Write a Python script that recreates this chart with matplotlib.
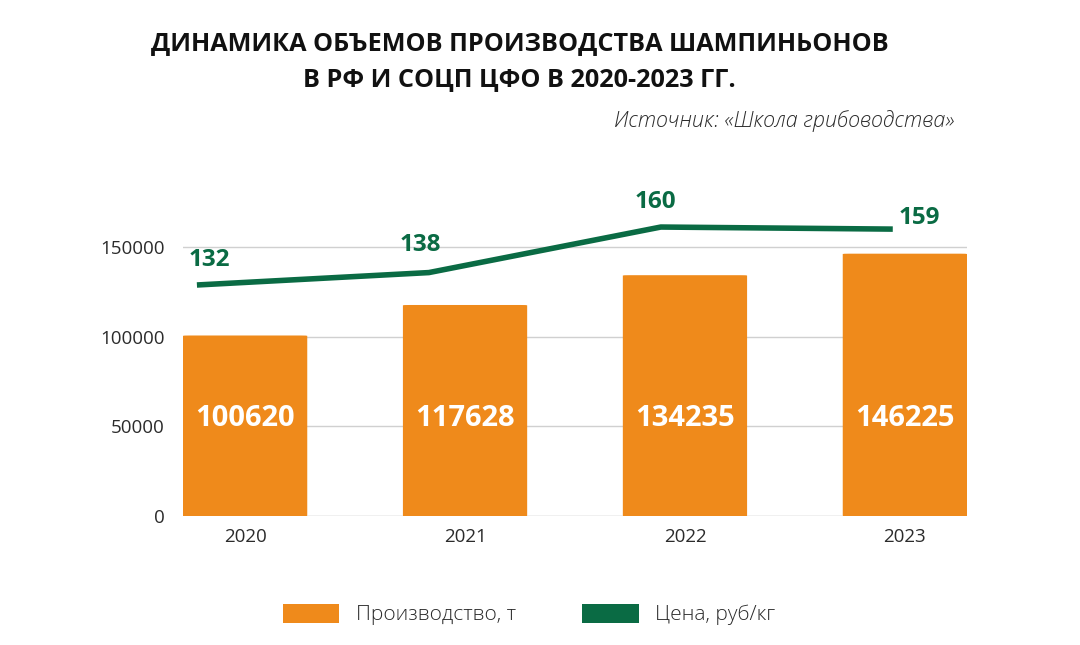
import matplotlib
matplotlib.use("Agg")
import matplotlib.pyplot as plt
from matplotlib.patches import FancyBboxPatch, Patch
import numpy as np

# data
years = ["2020", "2021", "2022", "2023"]
production = [100620, 117628, 134235, 146225]
price = [132, 138, 160, 159]
yticks = [0, 50000, 100000, 150000]

orange = "#EF8A1B"
green = "#0A6B44"
grid_c = "#D0D0D0"
txt_c = "#2b2b2b"

plt.rcParams["font.family"] = ["Open Sans", "DejaVu Sans"]

fig = plt.figure(figsize=(10.8, 6.45), dpi=100)
ax = fig.add_axes([183 / 1080, 129 / 645, 784 / 1080, 296 / 645])

x = np.arange(len(years))
w = 0.565
for xi, v in zip(x, production):
    ax.add_patch(FancyBboxPatch((xi - w / 2, 0), w, v,
                                boxstyle="round,pad=0,rounding_size=0.03",
                                mutation_aspect=6000,
                                fc=orange, ec="none", zorder=2))
    # square off the bottom corners
    ax.add_patch(plt.Rectangle((xi - w / 2, 0), w, v * 0.5, fc=orange, ec="none", zorder=2))
    ax.text(xi, 54500, f"{v}", color="white", fontsize=21, fontweight="bold",
            ha="center", va="center", zorder=3)

ax.set_xlim(-w / 2, 3 + w / 2)
ax.set_ylim(0, 165000)
ax.set_yticks(yticks)
ax.set_yticklabels([str(t) for t in yticks])
ax.set_xticks(x)
ax.set_xticklabels(years)
ax.tick_params(length=0, labelsize=13.5, colors=txt_c)
ax.tick_params(axis="y", pad=13)
ax.tick_params(axis="x", pad=9)
for t in yticks:
    ax.axhline(t, color=grid_c if t else "#b5b5b5", lw=1, zorder=1)
for s in ax.spines.values():
    s.set_visible(False)

# price line on its own axes
ax2 = fig.add_axes(ax.get_position(), frameon=False)
ax2.plot(x, price, color=green, lw=4, solid_capstyle="butt", zorder=4)
ax2.set_xlim(-0.06, 3.32)
ax2.set_ylim(20.4, 163.4)
ax2.set_xticks([])
ax2.set_yticks([])
offs = [(9, 18), (-6, 20), (-4, 18), (19, 8)]
for xi, p, o in zip(x, price, offs):
    ax2.annotate(str(p), (xi, p), xytext=o, textcoords="offset points",
                 ha="center", va="center", color=green, fontsize=17.5,
                 fontweight="bold", annotation_clip=False)

fig.text(0.481, 0.932, "ДИНАМИКА ОБЪЕМОВ ПРОИЗВОДСТВА ШАМПИНЬОНОВ",
         ha="center", va="center", fontsize=18.2, fontweight="bold", color="#111111")
fig.text(0.481, 0.876, "В РФ И СОЦП ЦФО В 2020-2023 ГГ.",
         ha="center", va="center", fontsize=18.2, fontweight="bold", color="#111111")
fig.text(0.884, 0.812, "Источник: «Школа грибоводства»", ha="right", va="center",
         fontsize=15.5, style="italic", fontweight="light", color=txt_c)

handles = [Patch(fc=orange, ec="none", label="Производство, т"),
           Patch(fc=green, ec="none", label="Цена, руб/кг")]
fig.legend(handles=handles, loc="center", bbox_to_anchor=(0.49, 0.047),
           ncol=2, frameon=False, fontsize=15, handlelength=2.7, handleheight=1.0,
           columnspacing=3.2, handletextpad=0.8, labelcolor=txt_c,
           prop={"size": 15, "weight": "light"})

fig.savefig("out.png", dpi=100)
